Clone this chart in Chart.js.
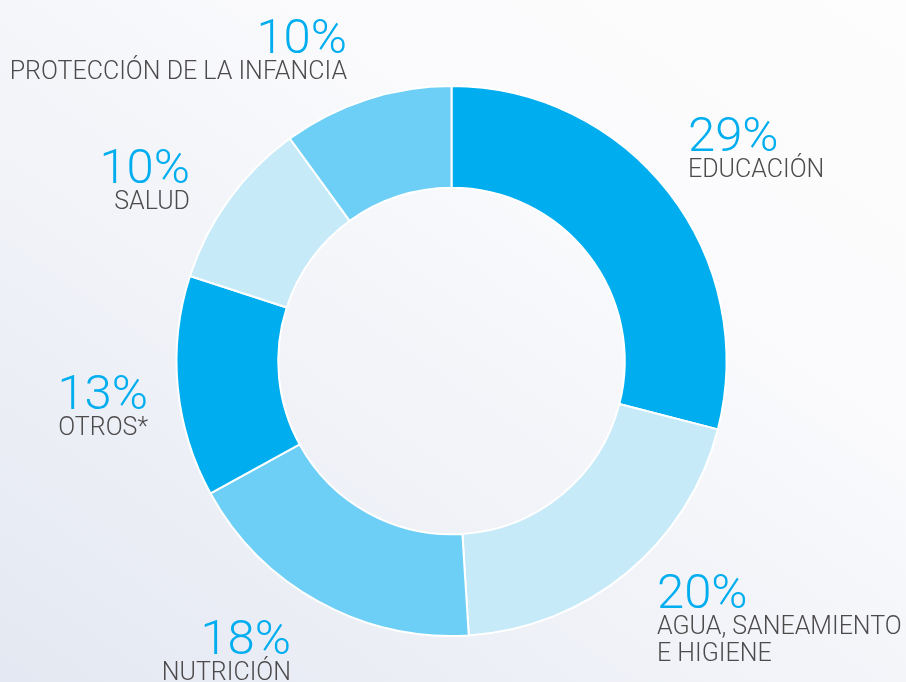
<!DOCTYPE html>
<html>
<head>
<meta charset="utf-8">
<script src="https://cdn.jsdelivr.net/npm/chart.js@4"></script>
<style>
   html, body { margin:0; padding:0; }
   body {
      width:906px; height:682px; overflow:hidden;
      background: linear-gradient(35deg, #e4e8f2 0%, #f1f3f8 40%, #fbfbfd 70%, #fdfdfd 100%);
   }
   #wrap { position:relative; width:906px; height:682px; }
</style>
</head>
<body>
<div id="wrap"><canvas id="donut" width="906" height="682"></canvas></div>
<script>

/* data */
let categories = ["EDUCACIÓN", "AGUA, SANEAMIENTO\nE HIGIENE", "NUTRICIÓN", "OTROS*", "SALUD", "PROTECCIÓN DE LA INFANCIA"];
let values = [29, 20, 18, 13, 10, 10];
let sliceColors = ["#00aeef", "#c7eaf9", "#6dcff6", "#00aeef", "#c7eaf9", "#6dcff6"];

/* label placement (x, baseline of the % figure, alignment) */
let labelSpots = [
   { x:688, y:151, align:"left" },
   { x:657, y:608, align:"left" },
   { x:291, y:654, align:"right" },
   { x:148, y:409, align:"right" },
   { x:190, y:183, align:"right" },
   { x:347, y:53,  align:"right" }
];

const sliceLabels = {
   id: "sliceLabels",
   afterDraw(chart){
      let ctx = chart.ctx;
      ctx.save();
      labelSpots.forEach(function(spot, i){
         ctx.textAlign = spot.align;
         ctx.textBaseline = "alphabetic";
         ctx.fillStyle = "#00aeef";
         ctx.font = "300 49px Roboto, 'Liberation Sans', sans-serif";
         ctx.fillText(values[i] + "%", spot.x, spot.y);
         ctx.fillStyle = "#4d4a4b";
         ctx.font = "300 25px Roboto, 'Liberation Sans', sans-serif";
         categories[i].split("\n").forEach(function(line, j){
            ctx.fillText(line, spot.x, spot.y + 26 + j * 27);
         });
      });
      ctx.restore();
   }
};

let ctx = document.getElementById("donut").getContext("2d");

new Chart(ctx, {
   type: "doughnut",
   data: {
      labels: categories,
      datasets: [{
         data: values,
         backgroundColor: sliceColors,
         borderColor: "#ffffff",
         borderWidth: 2,
         hoverOffset: 0
      }]
   },
   options: {
      responsive: false,
      animation: false,
      cutout: "63%",
      layout: {
         padding: { top: 85, bottom: 45, left: 175, right: 178 }
      },
      plugins: {
         legend: { display:false },
         tooltip: { enabled:false }
      }
   },
   plugins: [sliceLabels]
});

</script>
</body>
</html>
